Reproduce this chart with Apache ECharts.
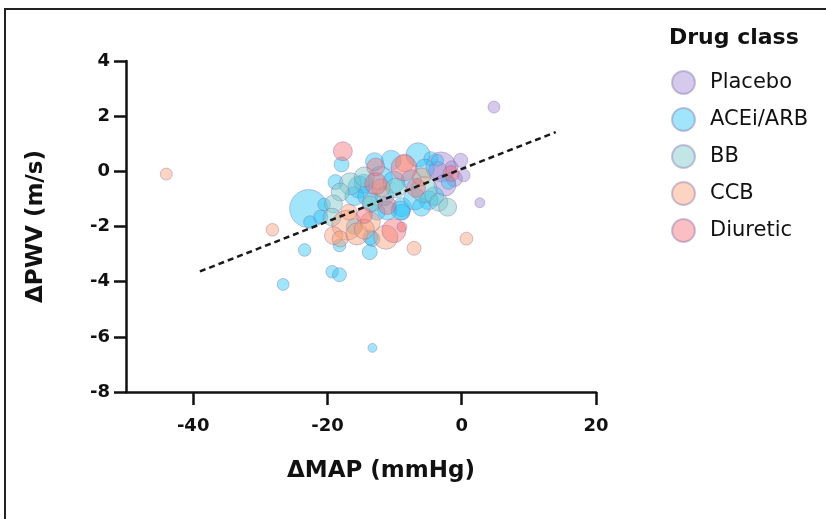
<!DOCTYPE html>
<html><head><meta charset="utf-8">
<script src="https://cdn.jsdelivr.net/npm/echarts@6/dist/echarts.min.js"></script>
<style>html,body{margin:0;padding:0;background:#fff}#c{width:826px;height:519px}</style>
</head><body><div id="c"></div><script>
// [ΔMAP (mmHg), ΔPWV (m/s), participants]
const placebo = [
  [4.8, 2.33, 36], [2.7, -1.14, 25], [-3.1, 0.16, 225], [-0.15, 0.4, 50],
  [0.3, -0.15, 40], [-1.1, -0.27, 64], [-3.6, 0.04, 81], [-2.5, -0.5, 121], [-1.5, 0.15, 40]
];
const acei = [
  [-22.8, -1.35, 361], [-23.4, -2.85, 40], [-26.6, -4.1, 36], [-13.3, -6.4, 20],
  [-19.3, -3.64, 40], [-18.2, -3.75, 49], [-18.2, -2.69, 40], [-13.7, -2.93, 56],
  [-13.3, -2.45, 56], [-17.9, 0.25, 56], [-18.8, -0.39, 56], [-21.0, -1.66, 50],
  [-22.6, -1.84, 40], [-6.5, 0.6, 144], [-4.6, 0.46, 49], [-3.6, 0.4, 36],
  [-15.3, -0.57, 121], [-14.6, -0.45, 90], [-12.1, -0.25, 144], [-10.1, -0.39, 121],
  [-4.1, -0.9, 90], [-4.9, -1.05, 90], [-8.9, -1.3, 90], [-8.9, -1.48, 64],
  [-11.1, -1.42, 90], [-12.6, -1.48, 64], [-13.6, -2.39, 56], [-9.1, -1.42, 90],
  [-16.0, -0.9, 90], [-7.5, -0.3, 100], [-5.5, 0.1, 90], [-2.0, -0.4, 49], [-20.5, -1.2, 40],
  [-10.5, 0.4, 100], [-14.0, -0.9, 100], [-7.0, -1.0, 121], [-11.5, -0.9, 90],
  [-6.0, -1.3, 81], [-16.0, -2.0, 64], [-13.0, 0.35, 81]
];
const bb = [
  [-16.6, -0.45, 121], [-18.1, -0.75, 81], [-19.1, -1.18, 81], [-19.3, -1.66, 81],
  [-13.3, -1.12, 90], [-13.6, -1.18, 64], [-5.6, -0.66, 169], [-3.4, -1.12, 81],
  [-2.1, -1.3, 81], [-14.5, -0.2, 100], [-9.8, -0.6, 100]
];
const ccb = [
  [-44.0, -0.1, 36], [-28.2, -2.12, 40], [0.7, -2.44, 42], [-7.1, -2.79, 49],
  [-11.3, -2.39, 144], [-17.1, -1.95, 225], [-19.1, -2.33, 81], [-18.1, -2.45, 64],
  [-15.6, -2.27, 121], [-13.6, -1.84, 100], [-16.8, -1.48, 64], [-12.0, -0.6, 81],
  [-6.0, -0.2, 81], [-8.5, 0.3, 81], [-14.5, -2.1, 100]
];
const diuretic = [
  [-17.7, 0.73, 90], [-8.6, 0.12, 169], [-12.8, 0.16, 81], [-12.8, -0.45, 121],
  [-11.1, -1.24, 81], [-10.1, -2.15, 144], [-1.6, -0.08, 64], [-8.9, -2.02, 25],
  [-14.5, -1.6, 64], [-6.8, -0.6, 90]
];
const trendX = [-39, 14];
const trendY = [-3.63, 1.42];
const xTicks = [-40, -20, 0, 20];
const classNames = ['Placebo', 'ACEi/ARB', 'BB', 'CCB', 'Diuretic'];

const fills = ['rgba(160,135,210,0.55)', 'rgba(41,195,245,0.55)', 'rgba(115,199,199,0.55)', 'rgba(249,157,113,0.55)', 'rgba(244,110,117,0.55)'];
const border = 'rgba(130,110,170,0.5)';
const FONT = 'DejaVu Sans';

const groups = [placebo, acei, bb, ccb, diuretic];
const series = groups.map((g, i) => ({
  name: classNames[i],
  type: 'scatter',
  data: g,
  symbol: 'circle',
  symbolSize: v => 2 * Math.sqrt(v[2]),
  itemStyle: { color: fills[i], borderColor: border, borderWidth: 1 },
  emphasis: { disabled: true },
  z: 2
}));
series.push({
  type: 'line',
  data: trendX.map((x, i) => [x, trendY[i]]),
  symbol: 'none',
  lineStyle: { color: '#1a1a1a', width: 2.5, type: [6, 4] },
  z: 5,
  silent: true
});

const chart = echarts.init(document.getElementById('c'), null, { renderer: 'canvas' });
chart.setOption({
  animation: false,
  backgroundColor: '#fff',
  graphic: [{
    type: 'rect', shape: { x: 5, y: 9, width: 900, height: 600 },
    style: { fill: 'none', stroke: '#222', lineWidth: 2 }, silent: true, z: -1
  }],
  title: {
    text: 'Drug class', left: 664, top: 22,
    textStyle: { fontFamily: FONT, fontWeight: 'bold', fontSize: 22, color: '#111' }
  },
  legend: {
    orient: 'vertical', left: 666, top: 65,
    itemWidth: 23, itemHeight: 23, itemGap: 12,
    icon: 'circle',
    data: classNames,
    textStyle: { fontFamily: FONT, fontSize: 21, color: '#111', padding: [0, 0, 0, 10] }
  },
  grid: { left: 126, top: 61, width: 470, height: 331 },
  xAxis: {
    type: 'value', min: -50, max: 20,
    name: 'ΔMAP (mmHg)', nameLocation: 'middle', nameGap: 68,
    nameTextStyle: { fontFamily: FONT, fontWeight: 'bold', fontSize: 23, color: '#111', padding: [0, 0, 0, 40] },
    axisLine: { onZero: false, lineStyle: { color: '#111', width: 2.5 } },
    axisTick: { show: true, length: 13, customValues: xTicks, lineStyle: { color: '#111', width: 2.5 } },
    axisLabel: { customValues: xTicks, margin: 25, fontFamily: FONT, fontWeight: 'bold', fontSize: 18, color: '#111' },
    splitLine: { show: false }
  },
  yAxis: {
    type: 'value', min: -8, max: 4, interval: 2,
    name: 'ΔPWV (m/s)', nameLocation: 'middle', nameGap: 78, nameRotate: 90,
    nameTextStyle: { fontFamily: FONT, fontWeight: 'bold', fontSize: 23, color: '#111' },
    axisLine: { onZero: false, lineStyle: { color: '#111', width: 2.5 } },
    axisTick: { show: true, length: 12, lineStyle: { color: '#111', width: 2.5 } },
    axisLabel: { margin: 16, fontFamily: FONT, fontWeight: 'bold', fontSize: 18, color: '#111' },
    splitLine: { show: false }
  },
  series: series
});
</script></body></html>
